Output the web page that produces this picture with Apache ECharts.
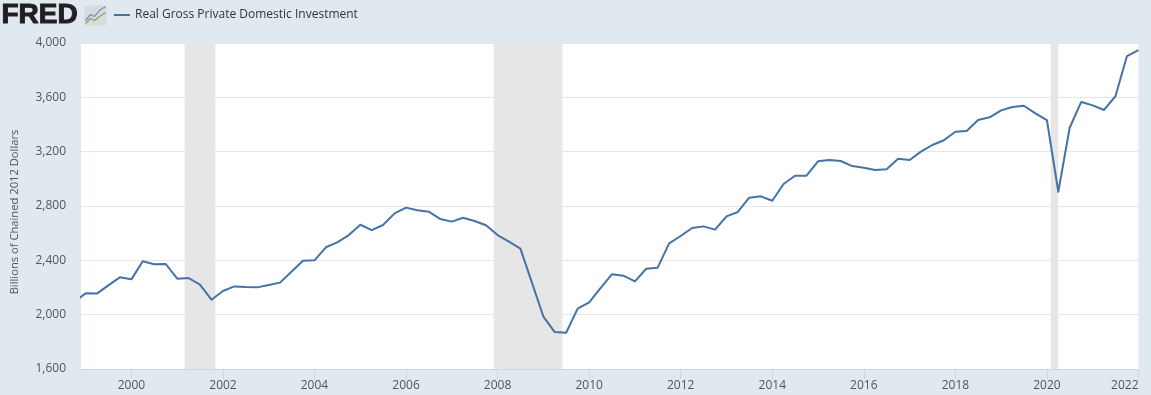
<!DOCTYPE html>
<html>
<head>
<meta charset="utf-8">
<title>Real Gross Private Domestic Investment</title>
<style>
html,body{margin:0;padding:0;background:#e1e9f0;}
#chart{width:1151px;height:395px;}
</style>
<script src="https://cdn.jsdelivr.net/npm/echarts@6/dist/echarts.min.js"></script>
</head>
<body>
<div id="chart"></div>
<script>
var seriesName = 'Real Gross Private Domestic Investment';
var yAxisName = 'Billions of Chained 2012 Dollars';

// quarterly values, 1998 Q4 to 2022 Q1
var investment = [
	2095,
	2157, 2155, 2216, 2275,
	2260, 2393, 2371, 2373,
	2265, 2270, 2221, 2110,
	2174, 2208, 2203, 2201,
	2219, 2236, 2316, 2397,
	2400, 2496, 2532, 2586,
	2662, 2623, 2660, 2746,
	2788, 2768, 2758, 2704,
	2685, 2714, 2690, 2658,
	2586, 2537, 2486, 2236,
	1985, 1872, 1867, 2044,
	2090, 2196, 2297, 2287,
	2245, 2338, 2346, 2525,
	2579, 2638, 2650, 2626,
	2724, 2756, 2861, 2871,
	2839, 2962, 3023, 3023,
	3129, 3139, 3131, 3094,
	3082, 3065, 3070, 3148,
	3139, 3200, 3249, 3284,
	3347, 3352, 3433, 3453,
	3504, 3529, 3538, 3482,
	3433, 2905, 3376, 3566,
	3541, 3507, 3608, 3904,
	3948
];
var yearTicks = ['2000-01-01','2002-01-01','2004-01-01','2006-01-01','2008-01-01','2010-01-01','2012-01-01','2014-01-01','2016-01-01','2018-01-01','2020-01-01','2022-01-01'];
var recessionStart = ['2001-03-01','2007-12-01','2020-02-01'];
var recessionEnd = ['2001-11-01','2009-06-01','2020-04-01'];

var points = [];
for (var i = 0; i < investment.length; i++) {
	var m = (1998 * 12 + 9) + i * 3;
	points.push([Date.UTC(Math.floor(m / 12), m % 12, 1), investment[i]]);
}
function ts(s) { return new Date(s + 'T00:00:00Z').getTime(); }

var bands = [];
for (var j = 0; j < recessionStart.length; j++) {
	bands.push([{xAxis: ts(recessionStart[j])}, {xAxis: ts(recessionEnd[j])}]);
}

var myChart = echarts.init(document.getElementById('chart'));
var font = '"Open Sans", sans-serif';
var option = {
	animation: false,
	backgroundColor: '#e1e9f0',
	textStyle: {fontFamily: font},
	grid: {left: 81, right: 12.5, top: 43, bottom: 26, outerBoundsMode: 'none', show: true, backgroundColor: '#ffffff', borderWidth: 0},
	legend: {
		left: 109, top: 4,
		icon: 'rect',
		itemWidth: 16, itemHeight: 2,
		selectedMode: false,
		textStyle: {color: '#333333', fontSize: 12, fontFamily: font},
		data: [seriesName]
	},
	xAxis: {
		type: 'value',
		min: ts('1998-11-25'),
		max: ts('2022-01-01'),
		splitLine: {show: false},
		axisLine: {lineStyle: {color: '#ccd6eb', width: 1}},
		axisTick: {length: 10, lineStyle: {color: '#ccd6eb'}, customValues: yearTicks.map(ts)},
		axisLabel: {
			customValues: yearTicks.map(ts),
			color: '#555555', fontSize: 12, margin: 11,
			hideOverlap: false,
			alignMaxLabel: 'right',
			formatter: function (v) { return new Date(v).getUTCFullYear() + ''; }
		}
	},
	yAxis: {
		type: 'value',
		min: 1600, max: 4000, interval: 400,
		name: yAxisName,
		nameLocation: 'middle',
		nameGap: 61,
		nameTextStyle: {color: '#555555', fontSize: 11.2, fontFamily: font, padding: [0, 12, 0, 0]},
		axisLine: {show: false},
		axisTick: {show: false},
		splitLine: {lineStyle: {color: '#e6e6e6', width: 1}},
		axisLabel: {
			color: '#555555', fontSize: 12, margin: 15,
			padding: [2, 0, 0, 0],
			formatter: function (v) { return v.toLocaleString('en-US'); }
		}
	},
	series: [{
		name: seriesName,
		type: 'line',
		data: points,
		showSymbol: false,
		clip: true,
		z: 5,
		lineStyle: {color: '#4572a7', width: 2, join: 'round'},
		itemStyle: {color: '#4572a7'},
		markArea: {
			silent: true,
			itemStyle: {color: '#e6e6e6', opacity: 1},
			label: {show: false},
			data: bands
		}
	}],
	graphic: [
		{
			type: 'text', left: 1, top: 1,
			style: {text: 'FRED', fontFamily: '"Liberation Sans", Arial, sans-serif', fontWeight: 'bold', fontSize: 28, fill: '#231f20', stroke: '#231f20', lineWidth: 1}
		},
		{
			type: 'group', left: 83, top: 4,
			children: [
				{type: 'rect', shape: {x: 0, y: 0, width: 22, height: 20, r: 2}, style: {fill: '#d6dcdc'}},
				{type: 'polyline', shape: {points: [[1, 15], [6, 9], [10, 11], [15, 5], [21, 1]]}, style: {stroke: '#6f93bd', lineWidth: 1.2, fill: null}},
				{type: 'polyline', shape: {points: [[1, 18], [6, 13], [10, 15], [15, 11], [21, 7]]}, style: {stroke: '#7fa568', lineWidth: 1.2, fill: null}}
			]
		}
	]
};
myChart.setOption(option);
</script>
</body>
</html>
